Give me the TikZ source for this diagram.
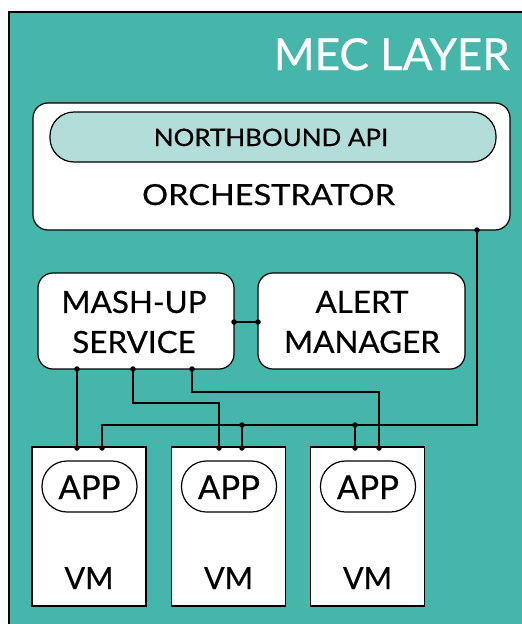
\documentclass[tikz,border=0pt]{standalone}
\usepackage{fontspec}
\setmainfont{Lato}[FakeBold=0.5]
\usetikzlibrary{calc}
\definecolor{mecteal}{RGB}{70,182,171}
\definecolor{apiteal}{RGB}{179,221,216}
\tikzset{
  box/.style={draw=black, line width=1.2pt, fill=white, rounded corners=15pt, inner sep=0pt},
  pill/.style={draw=black, line width=1.2pt, fill=white, inner sep=0pt},
  vmbox/.style={draw=black, line width=1.2pt, fill=white, inner sep=0pt, minimum width=114pt, minimum height=159pt},
  conn/.style={draw=black, line width=1.6pt},
  dot/.style={circle, fill=black, inner sep=0pt, minimum size=5.5pt},
  lbl/.style={inner sep=0pt, font=\fontsize{30.5}{40}\selectfont, align=center},
}
\begin{document}
\begin{tikzpicture}[x=1pt,y=-1pt]
\useasboundingbox (0,0) rectangle (522,624);
\fill[white] (0,0) rectangle (522,624);
\draw[fill=mecteal, line width=1.4pt] (9,12) rectangle (540,640);
\node[text=white, anchor=base east, inner sep=0pt, font=\fontsize{44}{50}\selectfont] (mec) at (510,70) {MEC LAYER};

% orchestrator
\node[box, minimum width=477pt, minimum height=127pt] (orch) at (271.5,166.5) {};
\node[pill, fill=apiteal, rounded corners=24pt, minimum width=446pt, minimum height=50pt] (api) at (273,137) {};
\node[anchor=base, inner sep=0pt, font=\fontsize{24}{28}\selectfont] (apitext) at (271,146) {\scalebox{1.08}[1]{NORTHBOUND API}};
\node[anchor=base, inner sep=0pt, font=\fontsize{29}{32}\selectfont] (orchtext) at (268.5,205) {\scalebox{1.12}[1]{ORCHESTRATOR}};

% mash-up and alert
\node[box, minimum width=196pt, minimum height=96pt] (mash) at (136,321) {};
\node[lbl] (mashtext) at (134,322) {\scalebox{1.03}[1]{MASH-UP}\\\scalebox{1.03}[1]{SERVICE}};
\node[box, minimum width=207pt, minimum height=96pt] (alert) at (361.5,321) {};
\node[lbl] (alerttext) at (362,322) {\scalebox{1.03}[1]{ALERT}\\\scalebox{1.03}[1]{MANAGER}};

% VMs
\foreach \i/\x/\ax in {1/89/89.5,2/228.5/229,3/367.5/368}{
  \node[vmbox] (vm\i) at (\x,526.5) {};
  \node[pill, rounded corners=25pt, minimum width=95pt, minimum height=51pt] (app\i) at (\ax,486.5) {};
  \node[anchor=base, inner sep=0pt, font=\fontsize{33}{36}\selectfont] (apptext\i) at (\ax,499) {APP};
  \node[anchor=base, inner sep=0pt, font=\fontsize{30.5}{34}\selectfont] (vmtext\i) at (\x,589) {VM};
}

% connection points
\coordinate (o1) at (477,230);
\coordinate (m1) at (77,369);
\coordinate (m2) at (133,369);
\coordinate (m3) at (192,369);
\coordinate (mr) at (234,322);
\coordinate (al) at (258,322);
\coordinate (v1a) at (77,448);
\coordinate (v1b) at (102,448);
\coordinate (v2a) at (219,448);
\coordinate (v2b) at (242,448);
\coordinate (v3a) at (355,448);
\coordinate (v3b) at (379,448);
\coordinate (j2) at (242,425);
\coordinate (j3) at (355,425);

\draw[conn] (mr) -- (al);
\draw[conn] (m1) -- (v1a);
\draw[conn] (m2) |- (219,403) -- (v2a);
\draw[conn] (m3) |- (379,392) -- (v3b);
\draw[conn] (o1) |- (102,425) -- (v1b);
\draw[conn] (j2) -- (v2b);
\draw[conn] (j3) -- (v3a);

\foreach \c in {o1,m1,m2,m3,mr,al,v1a,v1b,v2a,v2b,v3a,v3b,j2,j3}
  \node[dot] at (\c) {};
\end{tikzpicture}
\end{document}
